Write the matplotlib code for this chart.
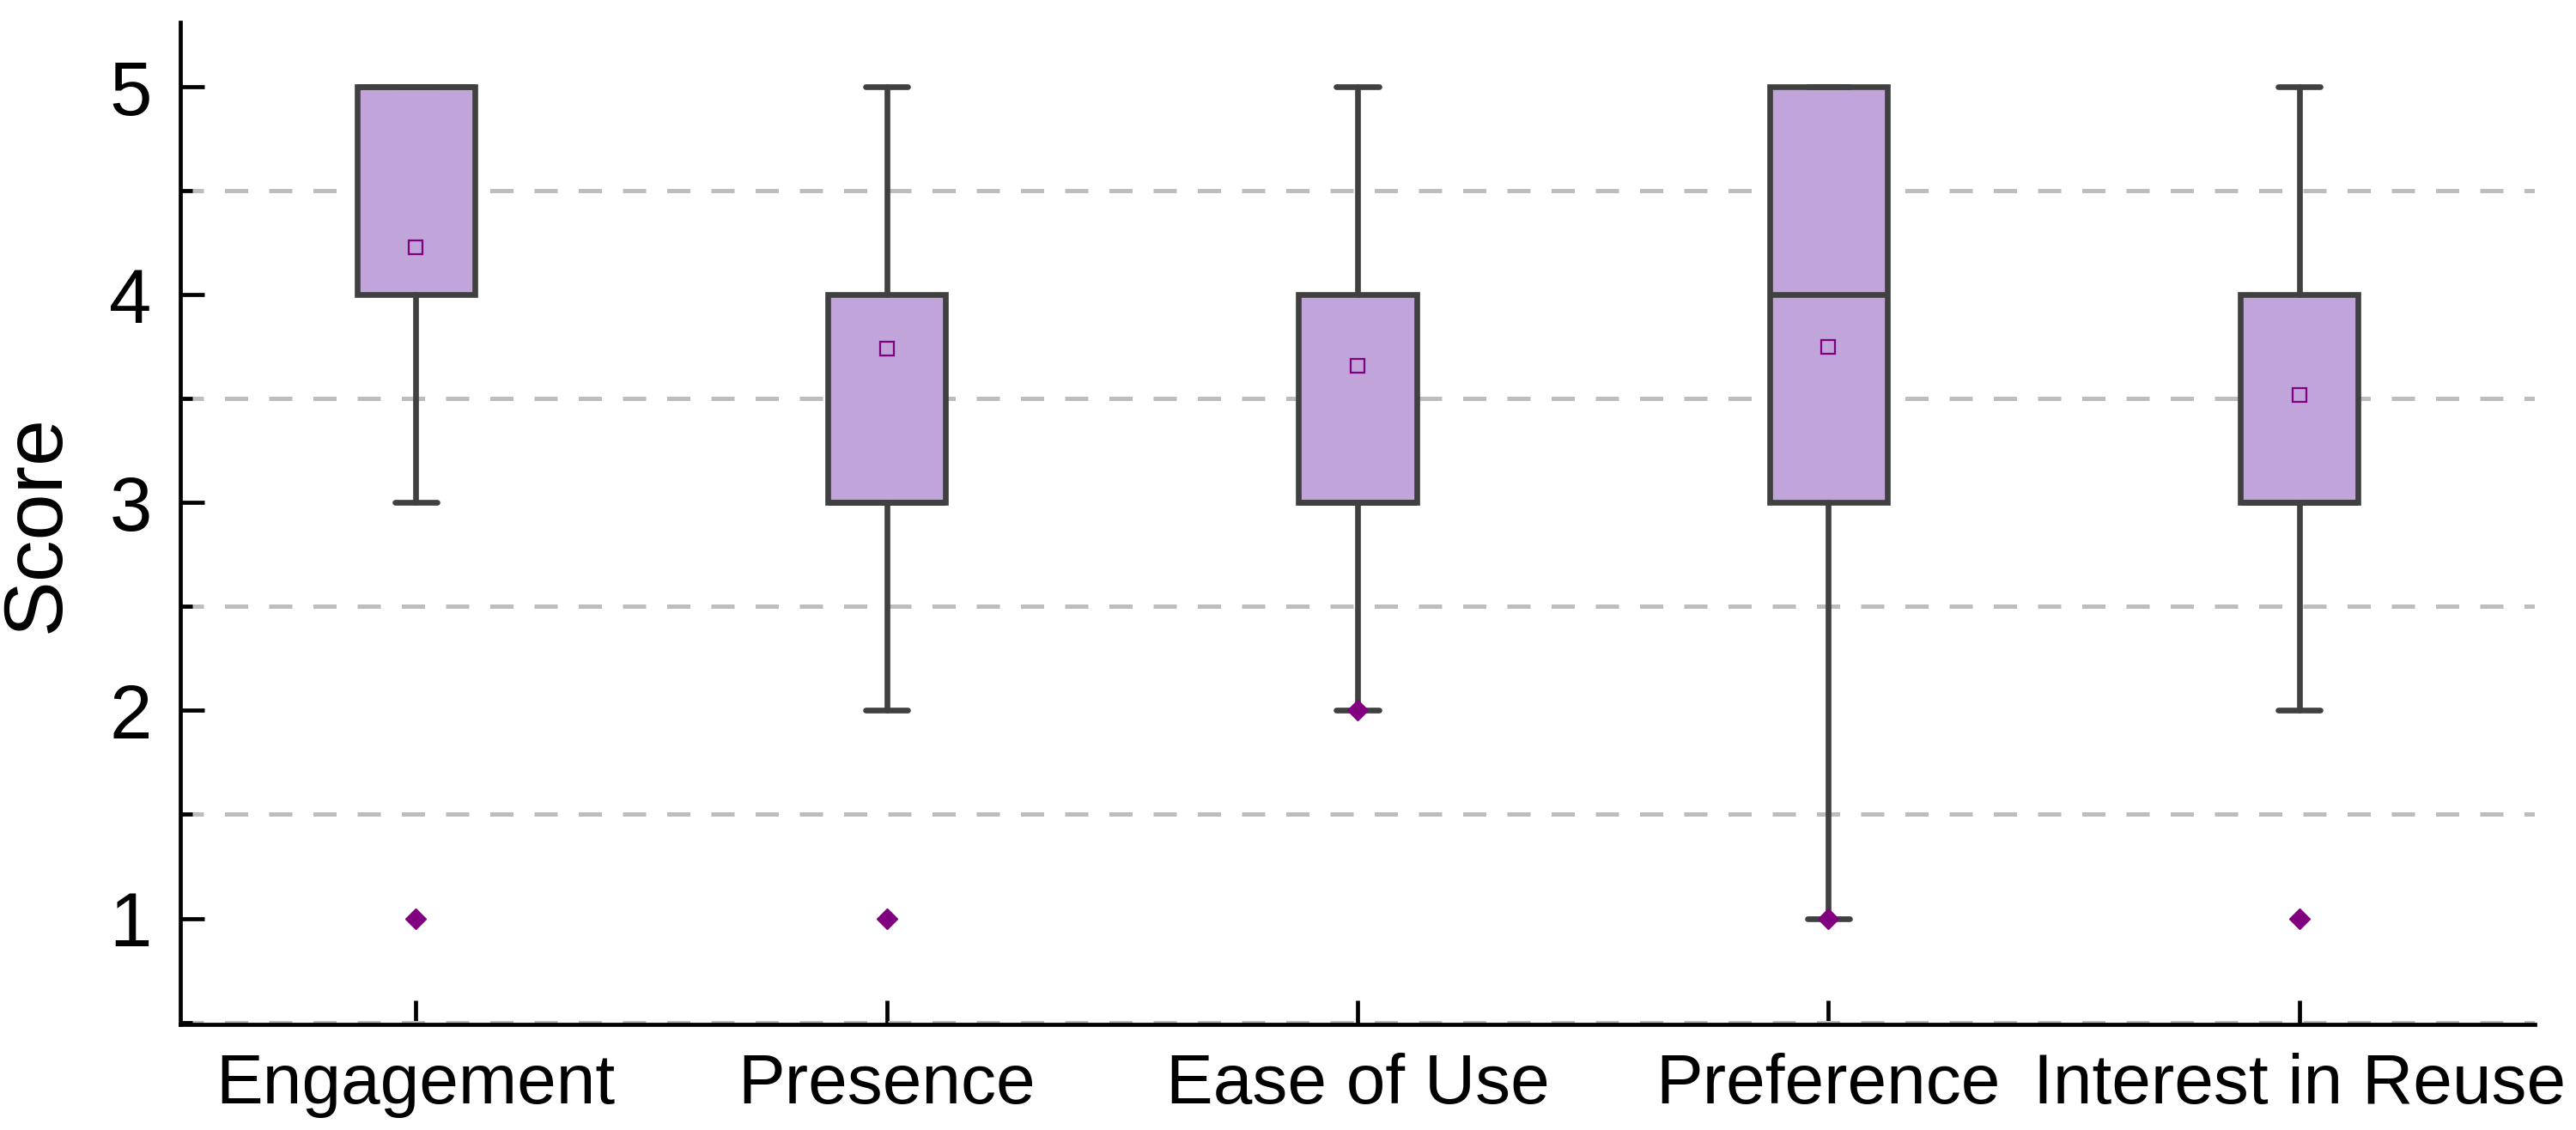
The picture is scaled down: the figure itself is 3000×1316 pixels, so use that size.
import matplotlib
matplotlib.use("Agg")
import matplotlib.pyplot as plt
from matplotlib.ticker import MultipleLocator

plt.rcParams['font.family'] = ['Liberation Sans', 'DejaVu Sans']

categories = ["Engagement", "Presence", "Ease of Use", "Preference", "Interest in Reuse"]
whislo = [3, 2, 2, 1, 2]
q1 = [4, 3, 3, 3, 3]
med = [5, 3, 3, 4, 3]
q3 = [5, 4, 4, 5, 4]
whishi = [5, 5, 5, 5, 5]
means = [4.23, 3.74, 3.66, 3.75, 3.52]
fliers = [[1], [1], [2], [1], [1]]

box_fill = "#C0A4DA"
edge = "#404040"
purple = "#800080"

stats = []
for i, name in enumerate(categories):
    stats.append(dict(label=name, whislo=whislo[i], q1=q1[i], med=med[i],
                      q3=q3[i], whishi=whishi[i], mean=means[i], fliers=fliers[i]))

fig = plt.figure(figsize=(15, 6.58), dpi=200)
ax = fig.add_axes([0.07, 0.0935, 0.914, 0.8865])

lw = 2.4
line_kw = dict(color=edge, linewidth=lw, solid_capstyle="round")
ax.bxp(stats, positions=range(len(categories)), widths=0.25, capwidths=0.09,
       patch_artist=True, showmeans=True,
       boxprops=dict(facecolor=box_fill, edgecolor=edge, linewidth=lw),
       medianprops=dict(color=edge, linewidth=lw),
       whiskerprops=line_kw, capprops=line_kw,
       meanprops=dict(marker="s", markersize=6, markerfacecolor="none",
                      markeredgecolor=purple, markeredgewidth=0.8),
       flierprops=dict(marker="D", markersize=6, markerfacecolor=purple,
                       markeredgecolor=purple, markeredgewidth=0.5))

ax.set_xlim(-0.5, 4.5)
ax.set_ylim(0.49, 5.31)
ax.yaxis.set_major_locator(MultipleLocator(1))
ax.yaxis.set_minor_locator(MultipleLocator(0.5))
ax.grid(True, which="minor", axis="y", color="#BDBDBD", linewidth=1.8,
        linestyle=(0, (5.4, 4.9)))
ax.set_axisbelow(True)

for s in ["top", "right"]:
    ax.spines[s].set_visible(False)
for s in ["left", "bottom"]:
    ax.spines[s].set_linewidth(1.7)

ax.tick_params(axis="y", which="major", direction="in", length=10, width=1.7,
               labelsize=32, pad=12)
ax.tick_params(axis="y", which="minor", direction="in", length=5, width=1.7)
ax.tick_params(axis="x", which="major", direction="in", length=10, width=1.7,
               labelsize=29.5, pad=12)
ax.set_xticks(range(len(categories)))
ax.set_xticklabels(categories)
ax.set_ylabel("Score", fontsize=35, labelpad=14)

fig.savefig("out.png", dpi=200)
